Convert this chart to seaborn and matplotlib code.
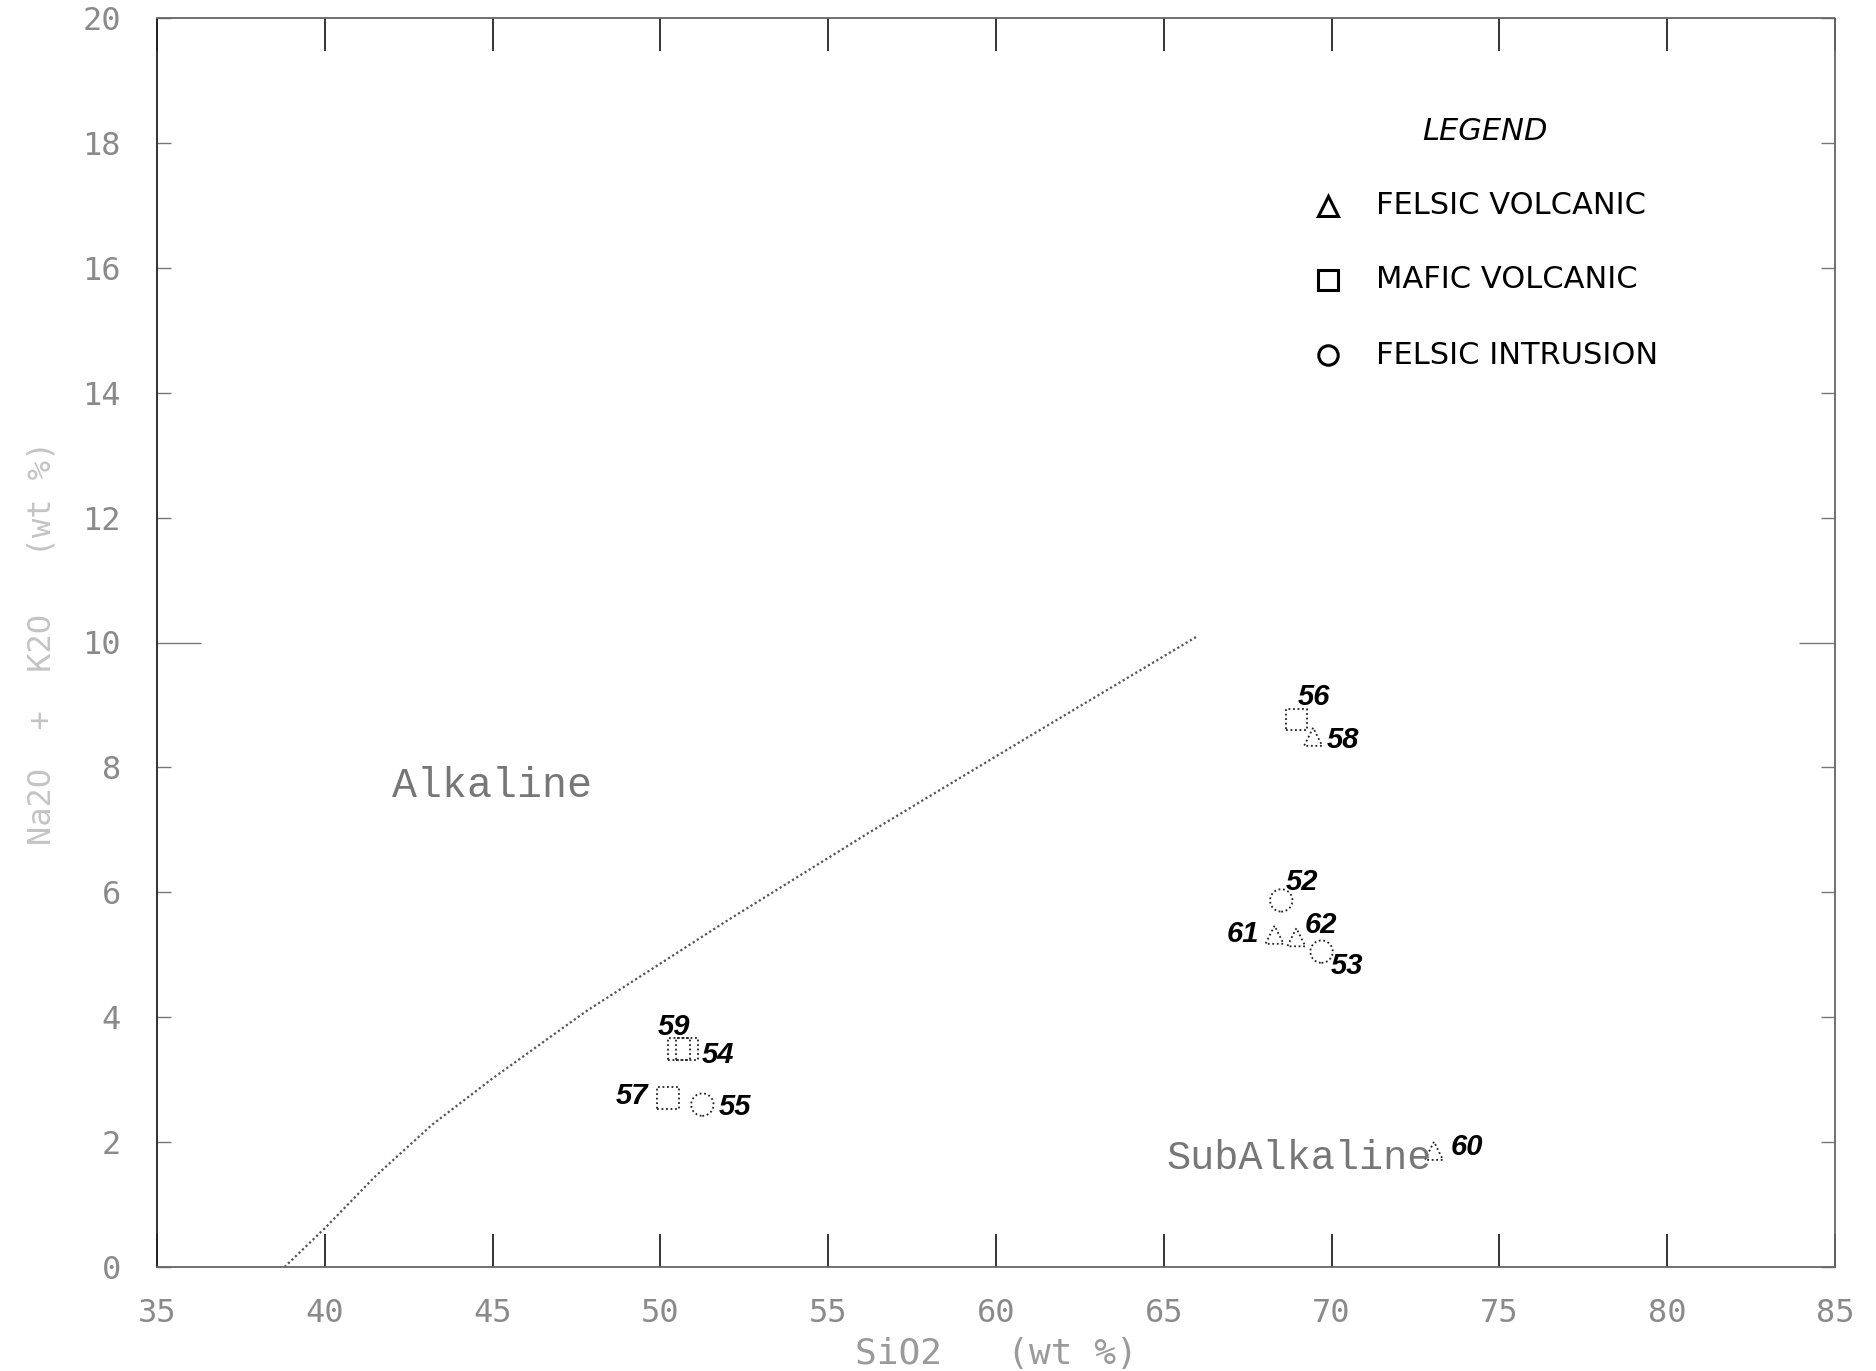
import numpy as np
import pandas as pd
import matplotlib
matplotlib.use("Agg")
import matplotlib.pyplot as plt
from matplotlib.lines import Line2D
import seaborn as sns

# ---------------- data ----------------
sample_ids = ["52", "53", "54", "55", "56", "57", "58", "59", "60", "61", "62"]
rock_types = ["FELSIC INTRUSION", "FELSIC INTRUSION", "MAFIC VOLCANIC", "FELSIC INTRUSION",
              "MAFIC VOLCANIC", "MAFIC VOLCANIC", "FELSIC VOLCANIC", "MAFIC VOLCANIC",
              "FELSIC VOLCANIC", "FELSIC VOLCANIC", "FELSIC VOLCANIC"]
sio2 = [68.5, 69.7, 50.8, 51.25, 68.95, 50.23, 69.45, 50.55, 73.05, 68.3, 68.95]
alkalis = [5.87, 5.05, 3.49, 2.6, 8.77, 2.71, 8.49, 3.49, 1.86, 5.32, 5.28]

boundary_sio2 = [38.8, 40.0, 41.5, 43.2, 45.0, 47.8, 52.0, 56.2, 61.0, 66.0]
boundary_alk = [0.0, 0.62, 1.45, 2.28, 3.02, 4.1, 5.55, 6.95, 8.5, 10.1]

x_ticks = [35, 40, 45, 50, 55, 60, 65, 70, 75, 80, 85]
y_ticks = [0, 2, 4, 6, 8, 10, 12, 14, 16, 18, 20]
legend_labels = ["FELSIC VOLCANIC", "MAFIC VOLCANIC", "FELSIC INTRUSION"]

# label offsets (pixels) - styling only
label_offsets = {"52": (21, 18), "53": (25, -14), "54": (31, -6), "55": (33, -2),
                 "56": (18, 22), "57": (-36, 2), "58": (30, -3), "59": (-5, 22),
                 "60": (33, 4), "61": (-32, 1), "62": (25, 12)}

df = pd.DataFrame({"id": sample_ids, "type": rock_types, "SiO2": sio2, "alk": alkalis})
bdf = pd.DataFrame({"SiO2": boundary_sio2, "alk": boundary_alk})

# ---------------- style ----------------
sns.set_theme(style="white")
plt.rcParams["font.family"] = ["DejaVu Sans"]

fig = plt.figure(figsize=(18.76, 13.71), dpi=100)
ax = fig.add_axes([157 / 1876, 1 - 1267 / 1371, (1835 - 157) / 1876, (1267 - 18) / 1371])

# boundary curve
sns.lineplot(data=bdf, x="SiO2", y="alk", sort=False, ax=ax, color="#555555",
             linewidth=1.6, linestyle=(0, (1, 1.2)), legend=False)

markers = {"FELSIC VOLCANIC": "^", "MAFIC VOLCANIC": "s", "FELSIC INTRUSION": "o"}
sizes = {"FELSIC VOLCANIC": 170, "MAFIC VOLCANIC": 240, "FELSIC INTRUSION": 260}
for t in legend_labels:
    sub = df[df["type"] == t]
    sns.scatterplot(data=sub, x="SiO2", y="alk", marker=markers[t], s=sizes[t], ax=ax,
                    facecolor="none", edgecolor="#222222", linewidth=1.3,
                    linestyle=(0, (1, 1.5)), legend=False, zorder=3)

for sid, x, y in zip(sample_ids, sio2, alkalis):
    dx, dy = label_offsets[sid]
    ax.annotate(sid, (x, y), xytext=(dx, dy), textcoords="offset pixels",
                ha="center", va="center", fontsize=21, fontweight="bold",
                fontstyle="italic", family=["Liberation Sans", "DejaVu Sans"], color="black")

# region labels
ax.text((392 - 157) / 1678, (1267 - 786) / 1249, "Alkaline",
        transform=ax.transAxes, ha="left", va="center", fontsize=30,
        family=["Liberation Mono", "DejaVu Sans Mono"], color="#777777")
ax.text((1166 - 157) / 1678, (1267 - 1158) / 1249, "SubAlkaline",
        transform=ax.transAxes, ha="left", va="center", fontsize=29,
        family=["Liberation Mono", "DejaVu Sans Mono"], color="#777777")

# axes limits & ticks
ax.set_xlim(35, 85)
ax.set_ylim(0, 20)
ax.set_xticks(x_ticks)
ax.set_yticks(y_ticks)
ax.set_xticklabels([str(v) for v in x_ticks], family=["DejaVu Sans Mono"], fontsize=23, color="#8a8a8a")
ax.set_yticklabels([str(v) for v in y_ticks], family=["DejaVu Sans Mono"], fontsize=23, color="#8a8a8a")
ax.tick_params(axis="x", direction="in", length=24, width=1.4, color="#333333",
               top=True, bottom=True, pad=22)
ax.tick_params(axis="y", direction="in", length=10, width=1.0, color="#777777",
               left=True, right=True, pad=26)
for tk, v in zip(ax.yaxis.get_major_ticks(), y_ticks):
    if v == 10:
        tk.tick1line.set_markersize(32)
        tk.tick2line.set_markersize(26)

ax.set_xlabel("SiO2   (wt %)", family=["DejaVu Sans Mono"], fontsize=26, color="#9a9a9a", labelpad=6)
ax.set_ylabel("Na2O  +  K2O   (wt %)", family=["DejaVu Sans Mono"], fontsize=23, color="#c4c4c4", labelpad=18)

for side, sp in ax.spines.items():
    sp.set_visible(True)
    sp.set_linestyle((0, (1, 1)))
    sp.set_linewidth(1.3)
    sp.set_color("#222222" if side == "left" else "#666666")

# legend (manual)
ax.text((1485 - 157) / 1678, (1267 - 132) / 1249, "LEGEND", transform=ax.transAxes,
        ha="center", va="center", fontsize=22, fontstyle="italic",
        family=["DejaVu Sans"], color="black")
leg_rows = [(1267 - 206) / 1249, (1267 - 280) / 1249, (1267 - 355) / 1249]
for lab, yy in zip(legend_labels, leg_rows):
    ax.add_line(Line2D([(1328 - 157) / 1678], [yy], transform=ax.transAxes,
                       marker=markers[lab], markersize=14 if lab != "FELSIC VOLCANIC" else 15,
                       markerfacecolor="none", markeredgecolor="black", markeredgewidth=2.2,
                       linestyle="none"))
    ax.text((1376 - 157) / 1678, yy, lab, transform=ax.transAxes, ha="left", va="center",
            fontsize=22, family=["DejaVu Sans"], color="black")

fig.savefig("out.png", dpi=100, facecolor="white")
